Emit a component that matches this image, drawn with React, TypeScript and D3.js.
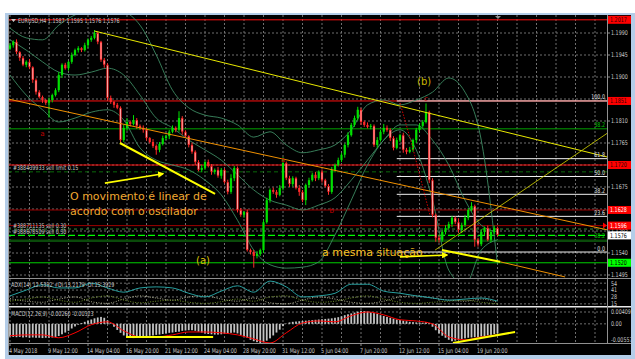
import React from 'react';
import * as d3 from 'd3';

// EURUSD H4 candles (closes, first open, wick sizes in pips)
const firstOpen = 1.1958;
const closes = [
  1.1965, 1.1972, 1.1951, 1.1939, 1.1925, 1.1931, 1.1920, 1.1894, 1.1869, 1.1859,
  1.1853, 1.1847, 1.1853, 1.1863, 1.1873, 1.1904, 1.1925, 1.1918, 1.1931, 1.1945,
  1.1955, 1.1959, 1.1955, 1.1965, 1.1976, 1.1980, 1.1990, 1.1972, 1.1935, 1.1925,
  1.1857, 1.1849, 1.1843, 1.1837, 1.1771, 1.1796, 1.1808, 1.1804, 1.1812, 1.1800,
  1.1796, 1.1792, 1.1775, 1.1767, 1.1759, 1.1751, 1.1763, 1.1775, 1.1779, 1.1788,
  1.1796, 1.1792, 1.1816, 1.1788, 1.1779, 1.1761, 1.1747, 1.1726, 1.1710, 1.1714,
  1.1726, 1.1718, 1.1706, 1.1710, 1.1698, 1.1710, 1.1685, 1.1665, 1.1693, 1.1714,
  1.1628, 1.1618, 1.1624, 1.1546, 1.1542, 1.1534, 1.1538, 1.1546, 1.1603, 1.1648,
  1.1669, 1.1665, 1.1659, 1.1673, 1.1724, 1.1693, 1.1681, 1.1693, 1.1673, 1.1665,
  1.1648, 1.1679, 1.1689, 1.1700, 1.1693, 1.1706, 1.1689, 1.1677, 1.1665, 1.1710,
  1.1720, 1.1730, 1.1741, 1.1761, 1.1781, 1.1802, 1.1816, 1.1833, 1.1808, 1.1802,
  1.1798, 1.1800, 1.1761, 1.1771, 1.1788, 1.1796, 1.1792, 1.1775, 1.1755, 1.1771,
  1.1781, 1.1751, 1.1747, 1.1751, 1.1771, 1.1792, 1.1800, 1.1808, 1.1828, 1.1689,
  1.1618, 1.1571, 1.1567, 1.1583, 1.1591, 1.1599, 1.1612, 1.1603, 1.1587, 1.1597,
  1.1612, 1.1628, 1.1636, 1.1567, 1.1558, 1.1583, 1.1591, 1.1567, 1.1583, 1.1591,
  1.1577,
];
const wickHi = [
  4, 3, 5, 2, 4, 3, 6, 2, 3, 4, 3, 2, 5, 3, 4, 6, 3, 4, 2, 5,
  3, 4, 2, 5, 3, 4, 6, 3, 2, 4, 3, 5, 2, 4, 3, 6, 8, 3, 10, 4,
  3, 5, 4, 2, 6, 3, 4, 5, 3, 4, 5, 3, 14, 4, 3, 2, 5, 3, 4, 6,
  3, 5, 4, 3, 6, 4, 3, 5, 8, 4, 3, 4, 2, 5, 3, 4, 6, 3, 4, 5,
  3, 5, 4, 6, 12, 3, 5, 4, 3, 6, 4, 3, 5, 4, 6, 3, 5, 3, 4, 6,
  3, 5, 4, 3, 6, 4, 5, 6, 4, 3, 5, 4, 3, 6, 4, 8, 5, 3, 4, 5,
  3, 5, 4, 6, 3, 4, 5, 4, 18, 3, 4, 3, 5, 4, 6, 5, 4, 3, 8, 5,
  6, 4, 8, 3, 4, 6, 3, 5, 4, 5, 3,
];
const wickLo = [
  3, 5, 4, 6, 3, 5, 4, 6, 5, 3, 6, 4, 30, 5, 3, 4, 6, 3, 5, 4,
  3, 5, 4, 3, 6, 4, 3, 5, 4, 6, 5, 4, 6, 3, 5, 4, 6, 5, 3, 6,
  4, 6, 5, 3, 4, 10, 5, 3, 4, 6, 3, 5, 4, 6, 3, 5, 4, 6, 3, 5,
  4, 3, 6, 5, 4, 6, 3, 5, 4, 6, 5, 4, 6, 3, 5, 24, 5, 4, 6, 3,
  5, 4, 6, 3, 5, 4, 6, 5, 3, 8, 4, 10, 5, 3, 6, 4, 5, 3, 6, 4,
  5, 3, 4, 6, 5, 3, 4, 5, 6, 4, 3, 5, 4, 6, 3, 5, 4, 6, 5, 3,
  4, 6, 5, 3, 4, 6, 5, 4, 3, 6, 5, 8, 6, 4, 5, 3, 6, 4, 5, 6,
  4, 5, 3, 14, 5, 4, 6, 3, 5, 4, 3,
];

// Bollinger bands, one value every 5 bars
const bbUpper = [1.2000, 1.1980, 1.1976, 1.2006, 1.2027, 1.2037, 1.2037, 1.2033, 1.2006, 1.1945, 1.1873, 1.1837, 1.1822, 1.1816, 1.1802, 1.1777, 1.1788, 1.1761, 1.1745, 1.1751, 1.1761, 1.1792, 1.1843, 1.1853, 1.1843, 1.1853, 1.1869, 1.1898, 1.1869, 1.1771, 1.1516];
const bbMid = [1.1976, 1.1955, 1.1931, 1.1910, 1.1904, 1.1910, 1.1918, 1.1904, 1.1863, 1.1816, 1.1796, 1.1771, 1.1751, 1.1730, 1.1700, 1.1669, 1.1648, 1.1638, 1.1628, 1.1638, 1.1653, 1.1689, 1.1730, 1.1771, 1.1802, 1.1802, 1.1771, 1.1720, 1.1648, 1.1597, 1.1583];
const bbLower = [1.1904, 1.1863, 1.1833, 1.1808, 1.1816, 1.1828, 1.1833, 1.1812, 1.1755, 1.1730, 1.1720, 1.1710, 1.1689, 1.1659, 1.1607, 1.1546, 1.1516, 1.1509, 1.1511, 1.1522, 1.1577, 1.1648, 1.1720, 1.1771, 1.1792, 1.1751, 1.1648, 1.1505, 1.1475, 1.1546, 1.1567];

// ADX(14), every 5 bars
const adx = [30, 41, 51, 45, 45, 54, 45, 37, 45, 47, 45, 35, 28, 39, 49, 37, 58, 47, 28, 30, 35, 52, 52, 39, 35, 30, 26, 22, 24, 26, 20];
const plusDI = [20, 24, 28, 22, 18, 26, 30, 22, 17, 20, 22, 18, 16, 19, 24, 20, 28, 30, 22, 18, 20, 26, 30, 24, 18, 16, 18, 20, 22, 18, 15];
const minusDI = [25, 20, 18, 24, 28, 19, 16, 24, 30, 26, 22, 28, 30, 24, 20, 26, 17, 15, 22, 28, 24, 18, 16, 20, 28, 30, 26, 22, 20, 24, 18];

// MACD(12,26,9) histogram per bar, signal every 5 bars
const macdHist = [
  -0.0044, -0.0045, -0.0046, -0.0045, -0.0047, -0.0046, -0.0048, -0.0047, -0.0048, -0.0048, -0.0049, -0.0048,
  -0.0048, -0.0047, -0.0045, -0.0042, -0.0036, -0.0030, -0.0024, -0.0016, -0.0009, -0.0003, 0.0003, 0.0007,
  0.0011, 0.0015, 0.0019, 0.0022, 0.0024, 0.0021, 0.0012, 0.0002, -0.0010, -0.0021, -0.0031, -0.0040, -0.0045, -0.0048,
  -0.0049, -0.0048, -0.0046, -0.0044, -0.0042, -0.0041, -0.0040, -0.0038, -0.0037, -0.0035, -0.0033, -0.0031, -0.0030,
  -0.0028, -0.0027, -0.0024, -0.0023, -0.0022, -0.0022, -0.0024, -0.0027, -0.0030, -0.0033, -0.0035, -0.0036, -0.0037,
  -0.0037, -0.0036, -0.0034, -0.0033, -0.0031, -0.0030, -0.0033, -0.0038, -0.0043, -0.0048, -0.0055, -0.0060, -0.0063,
  -0.0066, -0.0064, -0.0058, -0.0050, -0.0040, -0.0030, -0.0020, -0.0008, 0.0001, 0.0005, 0.0007, 0.0008, 0.0009, 0.0010,
  0.0011, 0.0012, 0.0013, 0.0014, 0.0015, 0.0016, 0.0017, 0.0018, 0.0019, 0.0021, 0.0023, 0.0026, 0.0030, 0.0033, 0.0036,
  0.0039, 0.0042, 0.0045, 0.0044, 0.0043, 0.0040, 0.0037, 0.0034, 0.0030, 0.0027, 0.0024, 0.0021, 0.0018, 0.0015, 0.0013,
  0.0011, 0.0009, 0.0007, 0.0006, 0.0005, 0.0005, 0.0004, 0.0006, 0.0003, -0.0010, -0.0022, -0.0033, -0.0041,
  -0.0048, -0.0055, -0.0060, -0.0058, -0.0055, -0.0052, -0.0050, -0.0048, -0.0047, -0.0046,
  -0.0046, -0.0044, -0.0042, -0.0040, -0.0038, -0.0035, -0.0033,
];
const macdSignal = [-0.0041, -0.0038, -0.0038, -0.0048, -0.0031, -0.0003, 0.0007, -0.0024, -0.0045, -0.0045, -0.0038, -0.0028, -0.0028, -0.0031, -0.0038, -0.0052, -0.0066, -0.0031, 0.0003, 0.0010, 0.0007, 0.0028, 0.0041, 0.0031, 0.0014, 0.0010, 0.0000, -0.0045, -0.0055, -0.0045, -0.0038];

// axes
const timeLabels = ['4 May 2018', '9 May 12:00', '14 May 04:00', '16 May 20:00', '21 May 12:00', '24 May 04:00', '28 May 20:00', '31 May 12:00', '5 Jun 04:00', '7 Jun 20:00', '12 Jun 12:00', '15 Jun 04:00', '19 Jun 20:00'];
const priceTicks = [1.1495, 1.1540, 1.1585, 1.1630, 1.1675, 1.1720, 1.1765, 1.1810, 1.1855, 1.1900, 1.1945, 1.1990];
const adxTicks = [54, 41, 28, 15];
const macdTicks = [0.00409, 0.0, -0.00557];

// horizontal levels
const redLevels = [1.2017, 1.1851, 1.1720];
const orderLevels = [1.1628, 1.1596];
const greenFibLevel = 1.1794;
const darkGreenDash = 1.1706;
const posLevels = [1.1589, 1.1576, 1.1565];
const supportLevel = 1.1520;
const fibHigh = 1.1851, fibLow = 1.1542, fibStartBar = 119;
const fibRatios = [100, 61.8, 50, 38.2, 23.6, 0];

// drawn objects [bar, price]
const trendUpper = [[26, 1.1994], [184, 1.1736]];
const trendLower = [[-0.6, 1.1855], [184, 1.1587]];
const trendRise = [[130.8, 1.1546], [184, 1.1786]];
const oscLine1 = [[33.8, 1.1765], [63.1, 1.1661]];
const arrow1 = [[29.2, 1.1683], [47.1, 1.1702]];
const oscLine2 = [[132.9, 1.1546], [150.8, 1.1522]];
const oscLine2Ext = [[150.8, 1.1522], [170.8, 1.1491]];
const arrow2 = [[120, 1.1532], [134.5, 1.1536]];
const zigzag = [[120, 1.1847], [123.7, 1.1761], [129.2, 1.1618]];
const macdLine1 = [[35.7, -0.0045], [62.5, -0.0045]];
const macdLine2 = [[136.3, -0.0066], [155.4, -0.0028]];
const waveLabels = ['a', 'a', 'b', 'c'];
const waveBars = [10, 84, 99, 128];
const wavePrices = [1.1786, 1.1733, 1.1628, 1.1858];

const W = 635, H = 359;
const L = 8, R = 607, RR = 631;
const MT = 15, MB = 278, AT = 279, AB = 306, CT = 308, CB = 343;

const x = d3.scaleLinear().domain([0, 150]).range([10, 497.5]);
const y = d3.scaleLinear().domain([1.1495, 1.1990]).range([275, 33]);
const yA = d3.scaleLinear().domain([10, 60]).range([306.5, 280]);
const yM = d3.scaleLinear().domain([-0.00557, 0.00409]).range([340, 312]);

const T = ({ px, py, s = 6.5, sx = 0.74, fill = '#c8c8c8', anchor = 'start', children }: any) => (
  <text transform={`translate(${px},${py}) scale(${sx},1)`} fontSize={s} fill={fill} textAnchor={anchor}>{children}</text>
);

const seg = (pts: number[][], sy: (v: number) => number) =>
  d3.line<number[]>().x(d => x(d[0])).y(d => sy(d[1]))(pts) || '';

export default function App() {
  const bandLine = d3.line<number>().x((_, i) => x(i * 5)).y(d => y(d)).curve(d3.curveMonotoneX);
  const adxLine = d3.line<number>().x((_, i) => x(i * 5)).y(d => yA(d)).curve(d3.curveMonotoneX);
  const sigLine = d3.line<number>().x((_, i) => x(i * 5)).y(d => yM(d)).curve(d3.curveMonotoneX);
  const vgrid = d3.range(0, 184, 6).map(i => x(i));
  const fib = fibRatios.map(r => ({ r, p: fibLow + (fibHigh - fibLow) * r / 100 }));
  const boxed = [...redLevels, ...orderLevels, supportLevel];
  const shownTicks = priceTicks.filter(p => boxed.every(b => Math.abs(y(b) - y(p)) > 5));

  const candles = closes.map((c, i) => {
    const o = i === 0 ? firstOpen : closes[i - 1];
    const h = Math.max(o, c) + wickHi[i] * 0.0001;
    const l = Math.min(o, c) - wickLo[i] * 0.0001;
    return { i, o, c, h, l, up: c >= o };
  });

  const hl = (p: number, stroke: string, w = 1, dash?: string, x0 = L) => (
    <line key={stroke + p} x1={x0} x2={R} y1={y(p)} y2={y(p)} stroke={stroke} strokeWidth={w} strokeDasharray={dash} />
  );

  const box = (p: number, bg: string, fg: string) => (
    <g key={'b' + p}>
      <rect x={608} y={y(p) - 4} width={23} height={8} fill={bg} />
      <T px={610} py={y(p) + 2.4} fill={fg}>{p.toFixed(4)}</T>
    </g>
  );

  return (
    <svg width={W} height={H} style={{ position: 'absolute', left: 0, top: 0, display: 'block' }} fontFamily="DejaVu Sans">
      <defs>
        <clipPath id="mainClip"><rect x={L} y={MT} width={R - L} height={MB - MT} /></clipPath>
        <clipPath id="adxClip"><rect x={L} y={AT} width={R - L} height={AB - AT} /></clipPath>
        <clipPath id="macdClip"><rect x={L} y={CT} width={R - L} height={CB - CT} /></clipPath>
        <marker id="arr" viewBox="0 0 10 10" refX="8" refY="5" markerWidth="4" markerHeight="4" orient="auto">
          <path d="M0,0L10,5L0,10z" fill="#ffff00" />
        </marker>
      </defs>
      <rect width={W} height={H} fill="#fff" />
      <rect x={5} y={13} width={630} height={346} fill="#b4cde8" />
      <rect x={L} y={MT} width={RR - L} height={340} fill="#000" />

      {/* grid */}
      <g stroke="#6e6e6e" strokeWidth={1} strokeDasharray="2,2">
        {vgrid.map(v => (
          <g key={'v' + v}>
            <line x1={v} x2={v} y1={MT} y2={MB} />
            <line x1={v} x2={v} y1={AT} y2={AB} />
            <line x1={v} x2={v} y1={CT} y2={CB} />
          </g>
        ))}
        {priceTicks.map(p => <line key={'h' + p} x1={L} x2={R} y1={y(p)} y2={y(p)} />)}
        {adxTicks.map(v => <line key={'a' + v} x1={L} x2={R} y1={yA(v)} y2={yA(v)} />)}
        {macdTicks.slice(0, 2).map(v => <line key={'m' + v} x1={L} x2={R} y1={yM(v)} y2={yM(v)} />)}
      </g>

      {/* main panel */}
      <g clipPath="url(#mainClip)">
        {redLevels.map(p => hl(p, '#ff1010'))}
        {hl(greenFibLevel, '#00a000')}
        {hl(darkGreenDash, '#0a6a0a', 1, '4,3')}
        {orderLevels.map(p => hl(p, '#a00000'))}
        {hl(posLevels[0], '#3a8a3a', 1, '3,3')}
        {hl(posLevels[1], '#00ff00', 1.3, '7,3')}
        {hl(posLevels[2], '#0a4a0a', 2.5)}
        {hl(supportLevel, '#00d000')}
        {fib.map(f => (
          <line key={'f' + f.r} x1={x(fibStartBar)} x2={R} y1={y(f.p)} y2={y(f.p)} stroke="#f0f0f0" strokeWidth={1} />
        ))}

        <path d={bandLine(bbUpper) || ''} fill="none" stroke="#3d8a62" strokeWidth={0.9} />
        <path d={bandLine(bbMid) || ''} fill="none" stroke="#3d8a62" strokeWidth={0.9} />
        <path d={bandLine(bbLower) || ''} fill="none" stroke="#3d8a62" strokeWidth={0.9} />

        {candles.map(d => {
          const col = d.up ? '#00e000' : '#ff2a2a';
          const top = y(Math.max(d.o, d.c));
          const bh = Math.max(1, y(Math.min(d.o, d.c)) - top);
          return (
            <g key={'c' + d.i}>
              <line x1={x(d.i)} x2={x(d.i)} y1={y(d.h)} y2={y(d.l)} stroke={col} strokeWidth={1} />
              <rect x={x(d.i) - 1.1} y={top} width={2.2} height={bh} fill={col} />
              {!d.up && bh > 4 && <line x1={x(d.i)} x2={x(d.i)} y1={top + 1} y2={top + bh - 1} stroke="#ffd8d8" strokeWidth={0.7} />}
            </g>
          );
        })}

        <path d={seg(trendUpper, y)} stroke="#e8e800" strokeWidth={1} fill="none" />
        <path d={seg(trendLower, y)} stroke="#f09000" strokeWidth={1} fill="none" />
        <path d={seg(trendRise, y)} stroke="#d8d800" strokeWidth={0.8} fill="none" />
        <path d={seg(oscLine2Ext, y)} stroke="#f09000" strokeWidth={1} fill="none" />
        <path d={seg(zigzag, y)} stroke="#d00000" strokeWidth={1} strokeDasharray="1.5,1.5" fill="none" />
        <path d={seg(oscLine1, y)} stroke="#ffff00" strokeWidth={2} fill="none" />
        <path d={seg(oscLine2, y)} stroke="#ffff00" strokeWidth={2} fill="none" />
        <path d={seg(arrow1, y)} stroke="#ffff00" strokeWidth={1.6} fill="none" markerEnd="url(#arr)" />
        <path d={seg(arrow2, y)} stroke="#ffff00" strokeWidth={1.6} fill="none" markerEnd="url(#arr)" />

        {waveLabels.map((t, i) => (
          <text key={'w' + i} x={x(waveBars[i])} y={y(wavePrices[i]) + 3} fontSize={7} fill="#c00000" textAnchor="middle">{t}</text>
        ))}

        <text x={70} y={200} fontSize={11} fill="#f0a830">O movimento é linear de</text>
        <text x={70} y={215} fontSize={11} fill="#f0a830">acordo com o oscilador</text>
        <text x={196} y={264} fontSize={10} fill="#d8c000">(a)</text>
        <text x={417} y={85} fontSize={10} fill="#c8b400">(b)</text>
        <text x={322} y={256} fontSize={11} fill="#f8c020">a mesma situação</text>

        <path d="M11,19 L16,19 L13.5,22 Z" fill="#c8c8c8" />
        <T px={18} py={23}>EURUSD,H4  1.1587 1.1595 1.1576 1.1576</T>
        <path d="M495,16 L501,16 L498,19 Z" fill="#909090" />
        <T px={13} py={169.5}>#388439933 sell limit 0.15</T>
        <T px={13} py={228}>#388711135 sell 0.30</T>
        <T px={13} py={234}>#388678509 sell 0.30</T>

        {fib.map(f => (
          <T key={'fl' + f.r} px={605} py={y(f.p) - 1.5} anchor="end" fill="#e0e0e0">{f.r.toFixed(1)}</T>
        ))}
        <T px={605} py={y(greenFibLevel) - 1.5} anchor="end" fill="#00d000">38.2</T>
        <T px={605} py={y(posLevels[1]) + 2.4} anchor="end" fill="#00d000">38.2</T>
      </g>

      {/* ADX panel */}
      <g clipPath="url(#adxClip)">
        <path d={adxLine(minusDI) || ''} fill="none" stroke="#d8d8b0" strokeWidth={0.8} strokeDasharray="1,1.5" />
        <path d={adxLine(plusDI) || ''} fill="none" stroke="#88b030" strokeWidth={0.8} strokeDasharray="1,1.5" />
        <path d={adxLine(adx) || ''} fill="none" stroke="#28a0a0" strokeWidth={1} />
        <T px={11} py={287}>ADX(14) 12.5352 +DI:13.2179 -DI:15.3929</T>
      </g>

      {/* MACD panel */}
      <g clipPath="url(#macdClip)">
        {macdHist.map((v, i) => (
          <rect key={'m' + i} x={x(i) - 0.9} y={Math.min(yM(v), yM(0))} width={1.8} height={Math.abs(yM(v) - yM(0))} fill="#c4c4c4" />
        ))}
        <path d={sigLine(macdSignal) || ''} fill="none" stroke="#ff0000" strokeWidth={1} />
        <path d={seg(macdLine1, yM)} stroke="#ffff00" strokeWidth={2} fill="none" />
        <path d={seg(macdLine2, yM)} stroke="#ffff00" strokeWidth={2} fill="none" />
        <T px={11} py={316}>MACD(12,26,9) -0.00260 -0.00323</T>
      </g>

      {/* separators */}
      <line x1={L} x2={RR} y1={278.5} y2={278.5} stroke="#909090" />
      <line x1={L} x2={RR} y1={306.8} y2={306.8} stroke="#e8e8e8" strokeWidth={1.6} />
      <line x1={L} x2={RR} y1={343.5} y2={343.5} stroke="#909090" />
      <line x1={R + 0.5} x2={R + 0.5} y1={MT} y2={CB} stroke="#909090" />
      <line x1={L + 0.5} x2={L + 0.5} y1={MT} y2={355} stroke="#a0a0a0" />

      {/* price axis */}
      {priceTicks.map(p => (
        <line key={'pk' + p} x1={R} x2={R + 3} y1={y(p)} y2={y(p)} stroke="#909090" />
      ))}
      {shownTicks.map(p => (
        <T key={'pt' + p} px={611} py={y(p) + (p === 1.1585 ? 0.8 : 2.4)}>{p.toFixed(4)}</T>
      ))}
      {redLevels.map(p => box(p, '#ff0000', '#300000'))}
      {orderLevels.map(p => box(p, '#ff0000', '#ffffff'))}
      <path d={`M603,${y(orderLevels[1]) - 3} L607,${y(orderLevels[1])} L603,${y(orderLevels[1]) + 3} Z`} fill="#ff0000" />
      {box(posLevels[1], '#ffffff', '#000000')}
      {box(supportLevel, '#00ff00', '#000000')}

      {adxTicks.map(v => <T key={'at' + v} px={611} py={yA(v) + 2.4}>{v}</T>)}
      {macdTicks.map(v => (
        <T key={'mt' + v} px={611} py={yM(v) + 2.4}>{v === 0 ? '0.00' : v.toFixed(5)}</T>
      ))}

      {/* time axis */}
      {timeLabels.map((t, i) => (
        <g key={'t' + i}>
          <line x1={x(i * 12)} x2={x(i * 12)} y1={CB} y2={CB + 3} stroke="#909090" />
          <T px={x(i * 12) - 1} py={353}>{t}</T>
        </g>
      ))}
    </svg>
  );
}
